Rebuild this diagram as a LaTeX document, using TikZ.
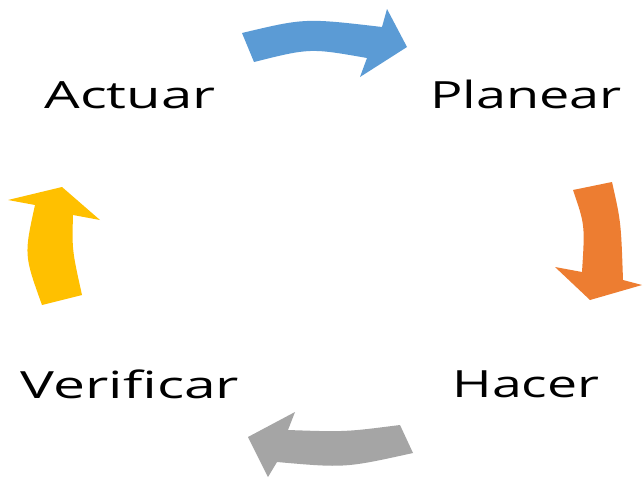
\documentclass[tikz,border=0pt]{standalone}
\usepackage{fontspec}
\setmainfont{Open Sans}
\definecolor{cblue}{HTML}{5B9BD5}
\definecolor{corange}{HTML}{ED7D31}
\definecolor{cgray}{HTML}{A5A5A5}
\definecolor{cyellow}{HTML}{FFC000}
\begin{document}
\begin{tikzpicture}[x=1pt,y=-1pt,
  lbl/.style={anchor=base,inner sep=0pt,font=\fontsize{37.5}{40}\selectfont,text=black}]
\useasboundingbox (0,0) rectangle (643,477);
\fill[white] (0,0) rectangle (643,477);
% blue arrow (top)
\fill[cblue] (242,33) .. controls (305,18) .. (382,27) -- (387,9) -- (407,47) -- (360,77) -- (367,58)
  .. controls (310,48) .. (254,62) -- cycle;
% orange arrow (right)
\fill[corange] (573,190) -- (612,182) .. controls (621,222) .. (623,280) -- (642,285) -- (590,300) -- (555,267) -- (582,272)
  .. controls (585,225) .. (573,190) -- cycle;
% gray arrow (bottom)
\fill[cgray] (400,425) -- (413,453) .. controls (345,468) .. (277,462) -- (268,477) -- (248,437) -- (295,412) -- (288,430)
  .. controls (345,432) .. (400,425) -- cycle;
% yellow arrow (left)
\fill[cyellow] (42,305) -- (82,295) .. controls (72,250) .. (73,215) -- (100,220) -- (62,187) -- (8,200) -- (35,205)
  .. controls (24,255) .. (42,305) -- cycle;
\node[lbl] (act) at (130,108) {\scalebox{1.5}[1]{Actuar}};
\node[lbl] (pla) at (526,108) {\scalebox{1.44}[1]{Planear}};
\node[lbl] (ver) at (130,398) {\scalebox{1.52}[1]{Verificar}};
\node[lbl] (hac) at (526,397) {\scalebox{1.43}[1]{Hacer}};
\end{tikzpicture}
\end{document}
